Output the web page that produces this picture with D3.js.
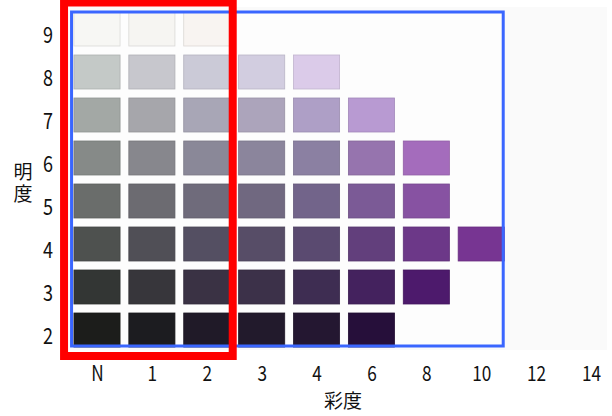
<!DOCTYPE html>
<html>
<head>
<meta charset="utf-8">
<script src="https://cdn.jsdelivr.net/npm/d3@7"></script>
<style>
  body { margin: 0; background: #fff; }
  text { font-family: "Noto Sans CJK JP", "Noto Sans", sans-serif; fill: #111; }
</style>
</head>
<body>
<svg width="612" height="416"></svg>
<script>
const svg = d3.select("svg");

// chroma (彩度) columns and value (明度) rows
const chromaLabels = ["N", "1", "2", "3", "4", "6", "8", "10", "12", "14"];
const valueLabels = ["9", "8", "7", "6", "5", "4", "3", "2"];

// chip colours per value row, left to right starting at N
const row9 = ["#f7f7f4", "#f6f5f2", "#f8f4f1"];
const row8 = ["#c4c9c7", "#c7c7cd", "#cbcad7", "#d2cde0", "#dbcbe9"];
const row7 = ["#a3a8a5", "#a6a6ab", "#a8a6b6", "#aca4bb", "#ae9fc6", "#b89ad2"];
const row6 = ["#868a88", "#87878d", "#8a8898", "#8b859c", "#8b80a2", "#9674ae", "#a46cbc"];
const row5 = ["#6a6d6b", "#6c6b71", "#6f6b7b", "#706880", "#72648a", "#7b5a96", "#8752a2"];
const row4 = ["#4e514f", "#504f56", "#544f62", "#574d67", "#5a4a70", "#623f7c", "#6c3888", "#773592"];
const row3 = ["#333634", "#37363b", "#3a3244", "#3c3149", "#3e2d52", "#44225e", "#4d1a6c"];
const row2 = ["#1c1d1b", "#1c1c20", "#201a28", "#221a2c", "#241731", "#260f3a"];

const rows = [row9, row8, row7, row6, row5, row4, row3, row2];

const chips = [];
rows.forEach((colors, i) => {
    colors.forEach((c, j) => {
        chips.push({ value: valueLabels[i], chroma: chromaLabels[j], color: c });
    });
});

/* scales */
const x = d3.scalePoint()
    .domain(chromaLabels)
    .range([97, 591]);

const y = d3.scalePoint()
    .domain(valueLabels)
    .range([29, 330]);

const chipW = x.step() * 0.84;
const chipH = 34;

/* photo background */
svg.append("rect")
    .attr("x", x("N") - x.step() / 2)
    .attr("y", y("9") - 22)
    .attr("width", x("14") + 16 - (x("N") - x.step() / 2))
    .attr("height", y("2") + 20 - (y("9") - 22))
    .attr("fill", "#fafafa");

svg.append("rect")
    .attr("x", x("N") - x.step() / 2 + 2)
    .attr("y", y("9") - 17)
    .attr("width", x("10") + 22 - (x("N") - x.step() / 2 + 2))
    .attr("height", y("2") + 16 - (y("9") - 17))
    .attr("fill", "#fdfdfd");

/* chips */
svg.append("g")
    .selectAll("rect")
    .data(chips)
    .join("rect")
    .attr("x", d => x(d.chroma) - chipW / 2)
    .attr("y", d => y(d.value) - chipH / 2)
    .attr("width", chipW)
    .attr("height", chipH)
    .attr("fill", d => d.color)
    .attr("stroke", d => d3.color(d.color).darker(0.35))
    .attr("stroke-width", 0.8);

/* highlight frames */
svg.append("rect")
    .attr("x", x("N") - x.step() / 2 + 2)
    .attr("y", y("9") - 17)
    .attr("width", x("10") + 22 - (x("N") - x.step() / 2 + 2))
    .attr("height", y("2") + 16 - (y("9") - 17))
    .attr("fill", "none")
    .attr("stroke", "#3a66ff")
    .attr("stroke-width", 3);

svg.append("rect")
    .attr("x", x("N") - x.step() / 2 - 5.5)
    .attr("y", y("9") - 26.5)
    .attr("width", x("2") + x.step() / 2 - 1.5 - (x("N") - x.step() / 2 - 5.5))
    .attr("height", y("2") + 26 - (y("9") - 26.5))
    .attr("fill", "none")
    .attr("stroke", "#ff0000")
    .attr("stroke-width", 8);

/* axes: narrow gothic-looking digits */
const xAxis = svg.append("g")
    .attr("transform", "translate(0,365)")
    .call(d3.axisBottom(x).tickSize(0).tickPadding(0));
xAxis.select(".domain").remove();
xAxis.selectAll("text")
    .attr("font-size", 21)
    .attr("dy", "0.78em")
    .attr("transform", "scale(0.82,1)")
    .attr("fill", "#111")
    .style("font-family", "'Noto Sans CJK JP', sans-serif");

const yAxis = svg.append("g")
    .attr("transform", "translate(53,6)")
    .call(d3.axisLeft(y).tickSize(0).tickPadding(0));
yAxis.select(".domain").remove();
yAxis.selectAll("text")
    .attr("font-size", 22)
    .attr("transform", "scale(0.82,1)")
    .attr("fill", "#111")
    .style("font-family", "'Noto Sans CJK JP', sans-serif");

/* axis titles */
svg.append("text")
    .attr("x", 343)
    .attr("y", 408)
    .attr("text-anchor", "middle")
    .attr("font-size", 19)
    .text("彩度");

svg.append("text")
    .attr("x", 23)
    .attr("y", 184)
    .attr("text-anchor", "middle")
    .attr("font-size", 19)
    .attr("letter-spacing", 3)
    .style("writing-mode", "vertical-rl")
    .text("明度");
</script>
</body>
</html>
